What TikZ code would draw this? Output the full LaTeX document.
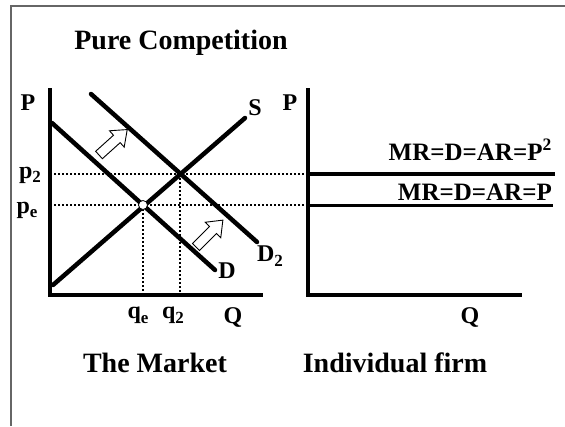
\documentclass[tikz,border=0pt]{standalone}
\usepackage{fontspec}
\setmainfont{Liberation Serif}
\tikzset{
  axis/.style={line width=4.5pt},
  curve/.style={line width=4.5pt, line cap=round},
  guide/.style={line width=1.6pt, dash pattern=on 2pt off 2pt},
  lbl/.style={font=\fontsize{24}{24}\selectfont\bfseries, inner sep=0pt},
  mrlbl/.style={font=\fontsize{25}{25}\selectfont\bfseries, inner sep=0pt, anchor=base east},
  head/.style={font=\fontsize{28}{28}\selectfont\bfseries, inner sep=0pt},
  shiftarrow/.style={line width=0.9pt, fill=white},
}
\newcommand{\shiftarrow}[2]{%
  \draw[shiftarrow, shift={#1}, rotate=#2]
    (0,-5) -- (24,-5) -- (24,-11) -- (38,0) -- (24,11) -- (24,5) -- (0,5) -- cycle;}
\newcommand{\sub}[1]{\raisebox{-0.2em}{\fontsize{17}{17}\selectfont #1}}
\begin{document}
\begin{tikzpicture}[x=1pt,y=-1pt]
  \useasboundingbox (0,0) rectangle (565,426);
  \def\xA{50}  \def\xB{308}
  \def\yTop{88} \def\yBot{295}
  \def\yTwo{174} \def\yE{205}
  \def\qE{143} \def\qTwo{180}
  % frame
  \draw[black!60, line width=1.5pt] (11,426) -- (11,6) -- (565,6);
  % guides
  \foreach \y in {\yTwo, \yE} {
    \draw[guide] (\xA, \y) -- (\xB, \y);
  }
  \foreach \x/\y in {\qE/\yE, \qTwo/\yTwo} {
    \draw[guide] (\x, \y) -- (\x, \yBot);
  }
  % the market
  \coordinate (S-lo) at (53,285);   \coordinate (S-hi) at (245,118);
  \coordinate (D-hi) at (52,123);   \coordinate (D-lo) at (215,270);
  \coordinate (D2-hi) at (91,94);   \coordinate (D2-lo) at (257,242);
  \draw[curve] (S-lo) -- (S-hi);
  \draw[curve] (D-hi) -- (D-lo);
  \draw[curve] (D2-hi) -- (D2-lo);
  \draw[axis] (\xA, \yTop) -- (\xA, \yBot) -- (263, \yBot);
  \filldraw[fill=white, line width=0.8pt] (\qE, \yE) circle (4.5);
  \shiftarrow{(99,155)}{42}
  \shiftarrow{(196,247)}{45}
  % individual firm
  \draw[axis] (\xB, \yTop) -- (\xB, \yBot) -- (522, \yBot);
  \draw[line width=4.5pt] (\xB, \yTwo) -- (555, \yTwo);
  \draw[line width=3pt] (\xB, \yE) -- (553, \yE);
  % labels
  \node[head] (title) at (181,43) {Pure Competition};
  \node[head] (market) at (155,363) {The Market};
  \node[head] (firm) at (395,363) {Individual firm};
  \node[lbl] (P-m) at (28,103) {P};
  \node[lbl] (P-f) at (290,103) {P};
  \node[lbl] (S) at (255,108) {S};
  \node[lbl] (D) at (227,271) {D};
  \node[lbl] (D2) at (270,256) {D\sub{2}};
  \node[lbl] (p2) at (30,175) {p\sub{2}};
  \node[lbl] (pe) at (27,210) {p\sub{e}};
  \node[lbl] (qe) at (138,315) {q\sub{e}};
  \node[lbl] (q2) at (173,315) {q\sub{2}};
  \node[lbl] (Q-m) at (233,317) {Q};
  \node[lbl] (Q-f) at (470,317) {Q};
  \node[mrlbl] (mr2) at (552,160) {MR=D=AR=P\textsuperscript{2}};
  \node[mrlbl] (mr) at (552,200) {MR=D=AR=P};
\end{tikzpicture}
\end{document}
